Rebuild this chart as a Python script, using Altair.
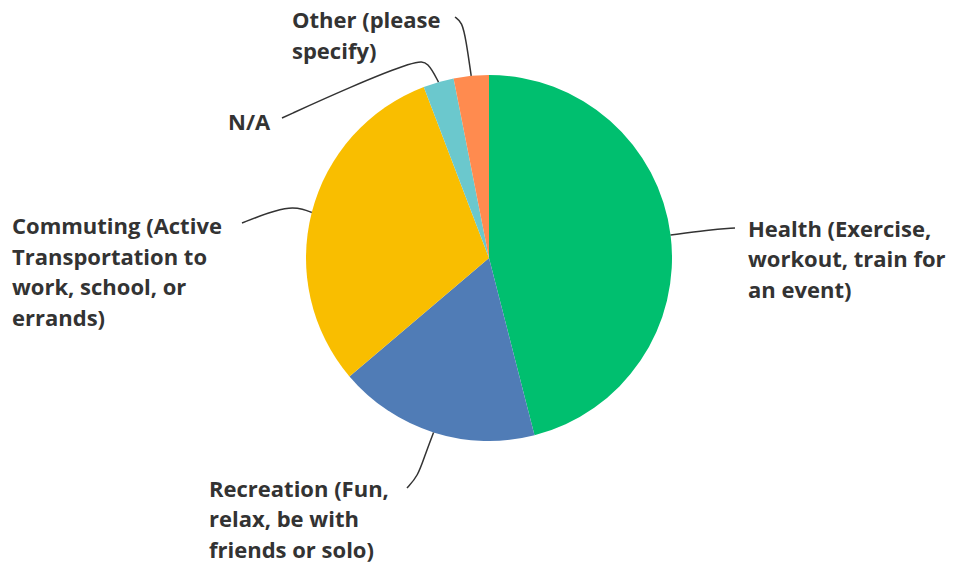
import math
import altair as alt
import pandas as pd

# ---- data ----
categories = [
    "Health (Exercise, workout, train for an event)",
    "Recreation (Fun, relax, be with friends or solo)",
    "Commuting (Active Transportation to work, school, or errands)",
    "N/A",
    "Other (please specify)",
]
percent = [46.0, 17.8, 30.4, 2.7, 3.1]
label_text = [
    "Health (Exercise,\nworkout, train for\nan event)",
    "Recreation (Fun,\nrelax, be with\nfriends or solo)",
    "Commuting (Active\nTransportation to\nwork, school, or\nerrands)",
    "N/A",
    "Other (please\nspecify)",
]
colors = ["#00BF6F", "#507CB6", "#F9BE00", "#6BC8CD", "#FF8B4F"]

# ---- layout (pixels, chart coordinates) ----
W, H = 940, 557
CX, CY, R = 481, 250, 183
label_anchor = [(740, 228.5), (201, 488.7), (4, 226.3), (220, 122), (284, 20)]
leader_via = [
    [(727, 220), (700, 222)],
    [(399, 480), (410, 468), (417, 447)],
    [(234, 215), (262, 204), (282, 199), (295, 201)],
    [(274, 110), (342, 79), (409, 52), (420, 54)],
    [(447, 9), (454, 14), (458, 32)],
]

pie_df = pd.DataFrame({"category": categories, "percent": percent, "idx": range(len(categories))})

# mid-angle of each slice, from the data
total = sum(percent)
mids = []
cum = 0.0
for p in percent:
    mids.append((cum + p / 2) / total * 2 * math.pi)
    cum += p

line_rows = []
for k, (cat, ang) in enumerate(zip(categories, mids)):
    pts = list(leader_via[k]) + [(CX + R * math.sin(ang), CY - R * math.cos(ang))]
    for i, (x, y) in enumerate(pts):
        line_rows.append({"category": cat, "i": i, "x": x, "y": y})
line_df = pd.DataFrame(line_rows)

label_df = pd.DataFrame({
    "category": categories,
    "text": label_text,
    "x": [a[0] for a in label_anchor],
    "y": [a[1] for a in label_anchor],
})

pie = alt.Chart(pie_df).mark_arc(outerRadius=R).encode(
    theta=alt.Theta("percent:Q", stack=True),
    color=alt.Color("category:N", scale=alt.Scale(domain=categories, range=colors), legend=None),
    order=alt.Order("idx:Q"),
    x=alt.value(CX),
    y=alt.value(CY),
)

leaders = alt.Chart(line_df).mark_line(
    color="#333333", strokeWidth=1.5, interpolate="basis"
).encode(
    x=alt.X("x:Q", scale=None, axis=None),
    y=alt.Y("y:Q", scale=None, axis=None),
    detail="category:N",
    order="i:Q",
)

labels = alt.Chart(label_df).mark_text(
    align="left", baseline="alphabetic", font="Open Sans", fontSize=22,
    fontWeight="bold", color="#333333", lineBreak="\n", lineHeight=30.5,
).encode(
    x=alt.X("x:Q", scale=None, axis=None),
    y=alt.Y("y:Q", scale=None, axis=None),
    text="text:N",
)

chart = alt.layer(pie, leaders, labels).properties(
    width=W, height=H, padding=0, autosize=alt.AutoSizeParams(type="none")
).configure_view(stroke=None)

chart.save("out.html", embed_options={"renderer": "svg", "actions": False})
